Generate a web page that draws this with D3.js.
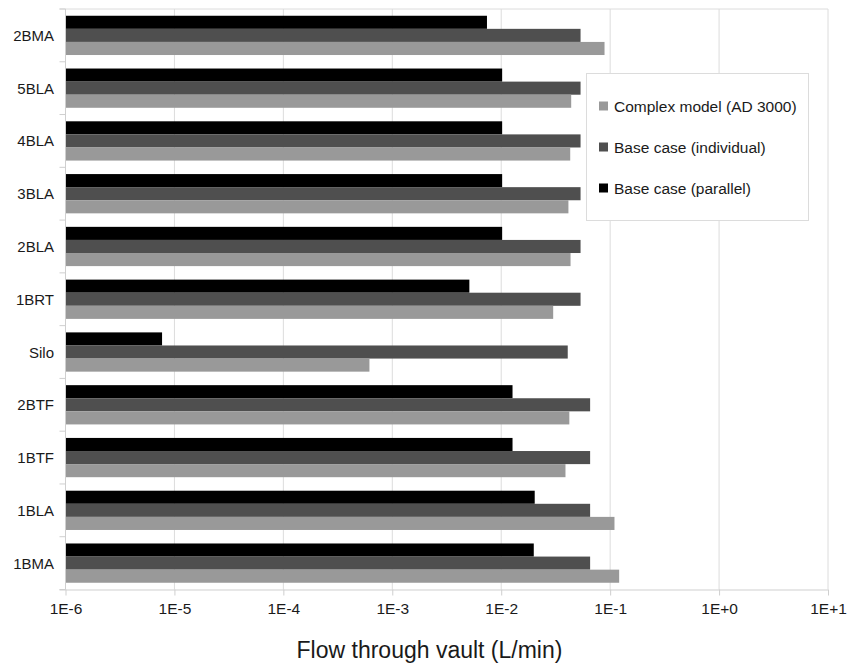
<!DOCTYPE html>
<html>
<head>
<meta charset="utf-8">
<script src="https://cdn.jsdelivr.net/npm/d3@7"></script>
<style>
  html, body { margin: 0; padding: 0; background: #fff; }
  svg { display: block; font-family: "Liberation Sans", Arial, sans-serif; }
</style>
</head>
<body>
<svg id="chart" width="859" height="666"></svg>
<script>
// ---- data ----
const categories = ["2BMA", "5BLA", "4BLA", "3BLA", "2BLA", "1BRT", "Silo", "2BTF", "1BTF", "1BLA", "1BMA"];
const seriesNames = ["Base case (parallel)", "Base case (individual)", "Complex model (AD 3000)"];
const parallel   = [0.0074, 0.0102, 0.0102, 0.0102, 0.0102, 0.0051, 0.0000077, 0.0127, 0.0127, 0.0203, 0.0199];
const individual = [0.0535, 0.0535, 0.0535, 0.0535, 0.0535, 0.0535, 0.0408, 0.0655, 0.0655, 0.0655, 0.0655];
const complexModel = [0.0888, 0.0439, 0.0430, 0.0414, 0.0433, 0.0300, 0.000617, 0.0422, 0.0389, 0.1096, 0.1210];
const tickValues = [1e-6, 1e-5, 1e-4, 1e-3, 1e-2, 1e-1, 1e0, 1e1];
const tickLabels = ["1E-6", "1E-5", "1E-4", "1E-3", "1E-2", "1E-1", "1E+0", "1E+1"];
const legendOrder = ["Complex model (AD 3000)", "Base case (individual)", "Base case (parallel)"];
const colors = { "Base case (parallel)": "#000000", "Base case (individual)": "#4f4f4f", "Complex model (AD 3000)": "#999999" };
const xTitle = "Flow through vault (L/min)";

const seriesValues = [parallel, individual, complexModel];

// ---- layout ----
const mLeft = 65.5, mRight = 828, mTop = 9, mBottom = 589.5;
const svg = d3.select("#chart");

const x = d3.scaleLog().domain([1e-6, 1e1]).range([mLeft, mRight]);
const y = d3.scaleBand().domain(categories).range([mTop, mBottom]).paddingInner(0.256).paddingOuter(0.128);
const ySub = d3.scaleBand().domain(seriesNames).range([0, y.bandwidth()]).padding(0);

const gridColor = "#dcdcdc";

// gridlines
svg.append("g").selectAll("line").data(tickValues).join("line")
  .attr("x1", d => x(d)).attr("x2", d => x(d))
  .attr("y1", mTop).attr("y2", mBottom)
  .attr("stroke", gridColor).attr("stroke-width", 1);
// top border
svg.append("line").attr("x1", mLeft - 6).attr("x2", mRight).attr("y1", mTop).attr("y2", mTop)
  .attr("stroke", gridColor);

// bars
const groups = svg.append("g").selectAll("g").data(categories).join("g")
  .attr("transform", d => `translate(0,${y(d)})`);
groups.selectAll("rect")
  .data((c, i) => seriesNames.map((s, k) => ({ s, v: seriesValues[k][i] })))
  .join("rect")
  .attr("x", x(1e-6))
  .attr("y", d => ySub(d.s))
  .attr("width", d => x(d.v) - x(1e-6))
  .attr("height", ySub.bandwidth())
  .attr("fill", d => colors[d.s]);

// y axis
const axisColor = "#cfcfcf";
svg.append("line").attr("x1", mLeft).attr("x2", mLeft).attr("y1", mTop).attr("y2", mBottom)
  .attr("stroke", axisColor);
const boundaries = categories.map(c => y(c) - y.step() * y.paddingOuter()).concat([mBottom]);
svg.append("g").selectAll("line").data(boundaries).join("line")
  .attr("x1", mLeft - 6).attr("x2", mLeft).attr("y1", d => d).attr("y2", d => d)
  .attr("stroke", axisColor);
svg.append("g").selectAll("text").data(categories).join("text")
  .attr("x", 54).attr("y", d => y(d) + y.bandwidth() / 2)
  .attr("text-anchor", "end").attr("dominant-baseline", "central")
  .attr("font-size", 15).attr("fill", "#1a1a1a")
  .text(d => d);

// x axis
const xAxis = d3.axisBottom(x).tickValues(tickValues).tickFormat((d, i) => tickLabels[i]).tickSize(6).tickPadding(7);
const gx = svg.append("g").attr("transform", `translate(0,${mBottom})`).call(xAxis);
gx.select(".domain").attr("stroke", axisColor).attr("d", `M${mLeft - 6},0.5H${mRight}`);
gx.selectAll(".tick line").attr("stroke", axisColor);
gx.selectAll(".tick text").attr("font-size", 15.5).attr("fill", "#1a1a1a")
  .attr("font-family", "Liberation Sans, Arial, sans-serif");

svg.append("text").attr("x", 429.5).attr("y", 658)
  .attr("text-anchor", "middle").attr("font-size", 23).attr("fill", "#1a1a1a")
  .text(xTitle);

// legend
const lg = svg.append("g");
lg.append("rect").attr("x", 586.5).attr("y", 73.5).attr("width", 222).attr("height", 147)
  .attr("fill", "#fff").attr("stroke", "#dcdcdc");
legendOrder.forEach((name, i) => {
  const cy = 106 + i * 41;
  lg.append("rect").attr("x", 599).attr("y", cy - 4.5).attr("width", 9).attr("height", 9).attr("fill", colors[name]);
  lg.append("text").attr("x", 614).attr("y", cy).attr("dominant-baseline", "central")
    .attr("font-size", 15.5).attr("fill", "#1a1a1a").text(name);
});
</script>
</body>
</html>
